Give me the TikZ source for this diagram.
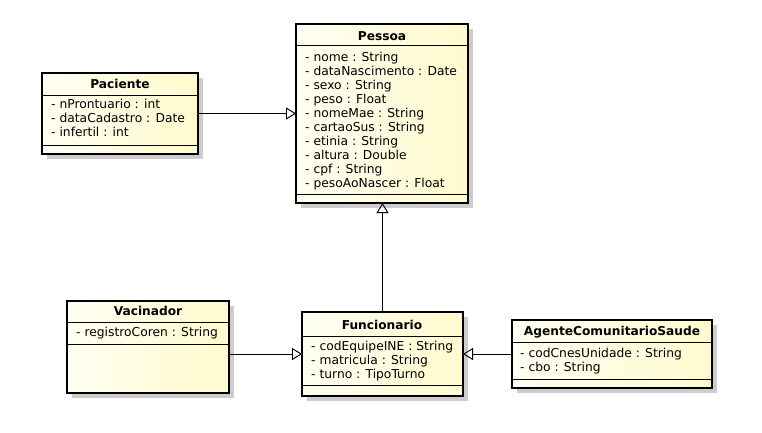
\documentclass[tikz,border=0pt]{standalone}
\usepackage{fontspec}
\setmainfont{DejaVu Sans}
\usetikzlibrary{arrows.meta,shadows}

\definecolor{umlpale}{RGB}{255,255,242}
\definecolor{umlcream}{RGB}{255,250,205}
\definecolor{umlshadow}{RGB}{205,205,205}

\tikzset{
	umlclass/.style={draw=black, line width=2.5pt, left color=umlpale, right color=umlcream,
		anchor=north west, inner sep=0pt, outer sep=0pt,
		drop shadow={shadow xshift=5pt, shadow yshift=-5pt, fill=umlshadow, opacity=1}},
	classname/.style={font=\fontsize{12.2}{14}\selectfont\bfseries, inner sep=0pt},
	attr/.style={font=\fontsize{12.3}{14}\selectfont, anchor=west, inner sep=0pt,
		text height=9pt, text depth=3pt},
	divider/.style={line width=0.9pt},
	gen/.style={line width=0.9pt, -{Triangle[open, length=10pt, width=12pt, line width=0.9pt]}},
	genshadow/.style={gen, draw=umlshadow, xshift=3pt, yshift=-3pt}
}

\begin{document}
\begin{tikzpicture}[x=1pt, y=-1pt]
	\useasboundingbox (0,0) rectangle (762,432);

	% classes
	\node[umlclass, minimum width=172pt, minimum height=179pt] (pessoa) at (296,24) {};
	\node[umlclass, minimum width=156pt, minimum height=81pt] (paciente) at (42,73) {};
	\node[umlclass, minimum width=162pt, minimum height=92pt] (vacinador) at (67,301) {};
	\node[umlclass, minimum width=161pt, minimum height=84pt] (funcionario) at (302,312) {};
	\node[umlclass, minimum width=200pt, minimum height=68pt] (agente) at (512,320) {};

	\node[classname] (pessoa-name) at (382,36) {Pessoa};
	\draw[divider] (296,45) -- (468,45);
	\draw[divider] (296,194) -- (468,194);
	\foreach \t [count=\i] in {nome : String, dataNascimento : Date, sexo : String,
		peso : Float, nomeMae : String, cartaoSus : String, etinia : String,
		altura : Double, cpf : String, pesoAoNascer : Float} {
		\node[attr] (pessoa-\i) at (305, 44+14*\i) {- \t};
	}

	\node[classname] (paciente-name) at (120,84) {Paciente};
	\draw[divider] (42,95) -- (198,95);
	\draw[divider] (42,145) -- (198,145);
	\foreach \t [count=\i] in {nProntuario : int, dataCadastro : Date, infertil : int} {
		\node[attr] (paciente-\i) at (51, 91+14*\i) {- \t};
	}

	\node[classname] (vacinador-name) at (148,311) {Vacinador};
	\draw[divider] (67,322) -- (229,322);
	\draw[divider] (67,344) -- (229,344);
	\node[attr] (vacinador-1) at (76,333) {- registroCoren : String};

	\node[classname] (funcionario-name) at (382,325) {Funcionario};
	\draw[divider] (302,336) -- (463,336);
	\draw[divider] (302,385) -- (463,385);
	\foreach \t [count=\i] in {codEquipeINE : String, matricula : String, turno : TipoTurno} {
		\node[attr] (funcionario-\i) at (311, 333+14*\i) {- \t};
	}

	\node[classname] (agente-name) at (612,332) {AgenteComunitarioSaude};
	\draw[divider] (512,342) -- (712,342);
	\draw[divider] (512,379) -- (712,379);
	\foreach \t [count=\i] in {codCnesUnidade : String, cbo : String} {
		\node[attr] (agente-\i) at (520, 340+14*\i) {- \t};
	}

	% generalizations
	\draw[genshadow] (paciente.east) -- (paciente.east -| pessoa.west);
	\draw[genshadow] (funcionario.north) -- (funcionario.north |- pessoa.south);
	\draw[genshadow] (vacinador.east |- funcionario.west) -- (funcionario.west);
	\draw[genshadow] (agente.west) -- (agente.west -| funcionario.east);

	\draw[gen] (paciente.east) -- (paciente.east -| pessoa.west);
	\draw[gen] (funcionario.north) -- (funcionario.north |- pessoa.south);
	\draw[gen] (vacinador.east |- funcionario.west) -- (funcionario.west);
	\draw[gen] (agente.west) -- (agente.west -| funcionario.east);
\end{tikzpicture}
\end{document}
